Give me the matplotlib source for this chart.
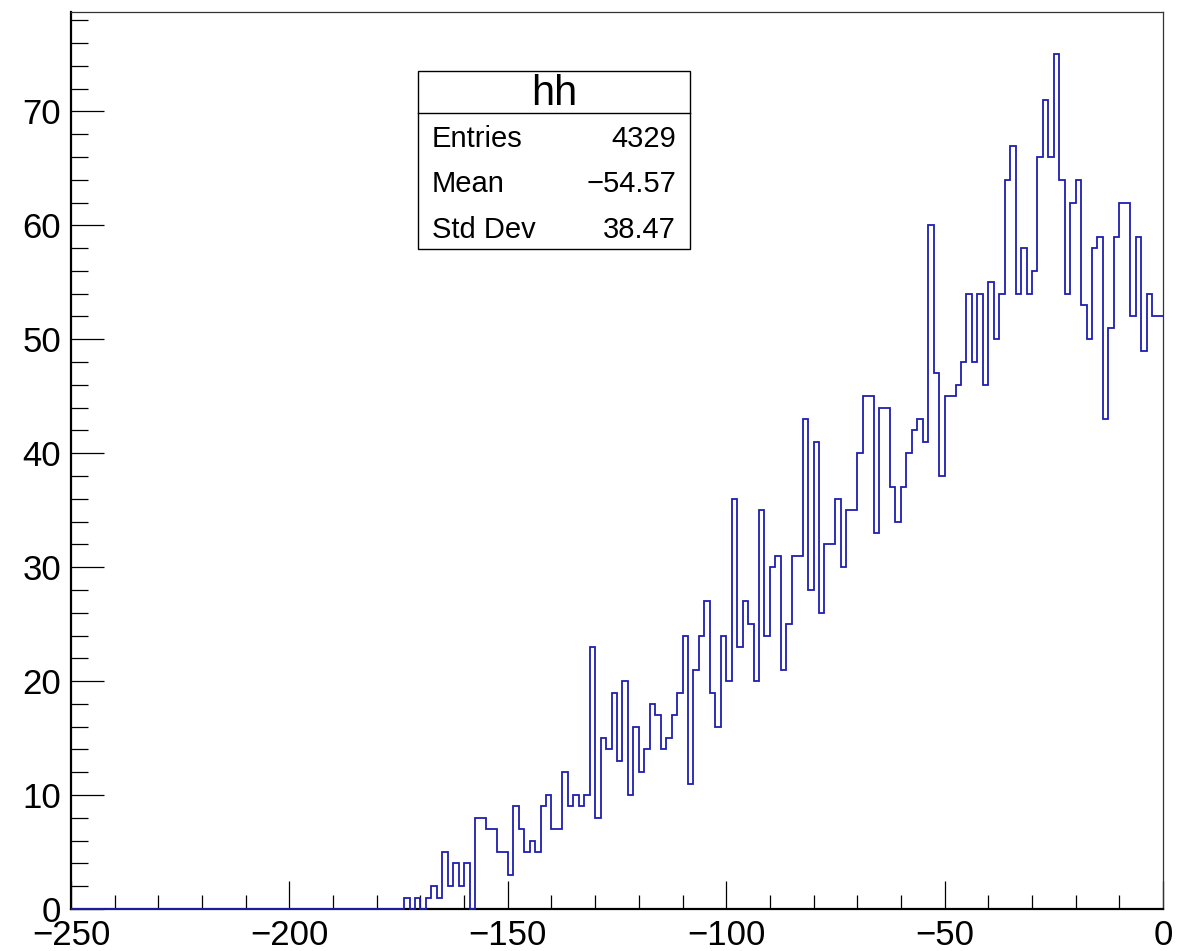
import numpy as np
import matplotlib
matplotlib.use("Agg")
from matplotlib import pyplot as plt
from matplotlib.patches import Rectangle
from matplotlib.lines import Line2D

plt.rcParams['font.family'] = ['Liberation Sans', 'DejaVu Sans']

# histogram "hh": 200 bins from -250 to 0
x_min, x_max, n_bins = -250, 0, 200
counts = [0] * 61 + [
    1, 0, 1, 0, 1, 2, 1, 5, 2, 4,
    2, 4, 0, 8, 8, 7, 7, 5, 5, 3,
    9, 7, 5, 6, 5, 9, 10, 7, 7, 12,
    9, 10, 9, 10, 23, 8, 15, 14, 19, 13,
    20, 10, 16, 12, 14, 18, 17, 14, 15, 17,
    19, 24, 11, 21, 24, 27, 19, 16, 24, 20,
    36, 23, 27, 25, 20, 35, 24, 30, 31, 21,
    25, 31, 31, 43, 28, 41, 26, 32, 32, 36,
    30, 35, 35, 40, 45, 45, 33, 44, 44, 37,
    34, 37, 40, 42, 43, 41, 60, 47, 38, 45,
    45, 46, 48, 54, 48, 54, 46, 55, 50, 54,
    64, 67, 54, 58, 54, 56, 66, 71, 66, 75,
    64, 54, 62, 64, 53, 50, 58, 59, 43, 51,
    59, 62, 62, 52, 59, 49, 54, 52, 52,
]
stat_names = ["Entries", "Mean", "Std Dev"]
stat_values = ["4329", "\u221254.57", "38.47"]

edges = np.linspace(x_min, x_max, n_bins + 1)

fig = plt.figure(figsize=(11.87, 9.51), dpi=100)
ax = fig.add_axes([71 / 1187, 1 - 909 / 951, (1163 - 71) / 1187, (909 - 11.7) / 951])

ax.stairs(counts, edges, color='#1f1fb0', linewidth=1.3, baseline=None,
          zorder=3, clip_on=False)

ax.set_xlim(x_min, x_max)
ax.set_ylim(0, 1.05 * max(counts))

ax.set_xticks(np.arange(-250, 1, 50))
ax.set_xticks(np.arange(-250, 1, 10), minor=True)
ax.set_yticks(np.arange(0, 71, 10))
ax.set_yticks(np.arange(0, 79, 2), minor=True)

ax.tick_params(axis='x', which='major', direction='in', length=20, width=0.9,
               labelsize=25, pad=7, top=False)
ax.tick_params(axis='x', which='minor', direction='in', length=10, width=0.9, top=False)
ax.tick_params(axis='y', which='major', direction='in', length=24, width=0.9,
               labelsize=25, pad=7, right=False)
ax.tick_params(axis='y', which='minor', direction='in', length=12, width=0.9, right=False)

for s in ['left', 'bottom']:
    ax.spines[s].set_linewidth(1.6)
for s in ['top', 'right']:
    ax.spines[s].set_linewidth(0.9)
    ax.spines[s].set_color('#333333')

# stats box
bx0, bx1 = 418 / 1187, 690 / 1187
by0, by1 = 1 - 249 / 951, 1 - 71 / 951
fig.patches.append(Rectangle((bx0, by0), bx1 - bx0, by1 - by0, transform=fig.transFigure,
                             facecolor='white', edgecolor='black', linewidth=1.0, zorder=5))
fig.lines.append(Line2D([bx0, bx1], [1 - 113 / 951] * 2, transform=fig.transFigure,
                        color='black', linewidth=1.0, zorder=6))
fig.text((bx0 + bx1) / 2, 1 - 94 / 951, "hh", ha='center', va='center', fontsize=30, zorder=7)
for i, (name, val) in enumerate(zip(stat_names, stat_values)):
    yy = 1 - (139 + 45.5 * i) / 951
    fig.text(432 / 1187, yy, name, ha='left', va='center', fontsize=21, zorder=7)
    fig.text(676 / 1187, yy, val, ha='right', va='center', fontsize=21, zorder=7)

fig.savefig('out.png', dpi=100)
